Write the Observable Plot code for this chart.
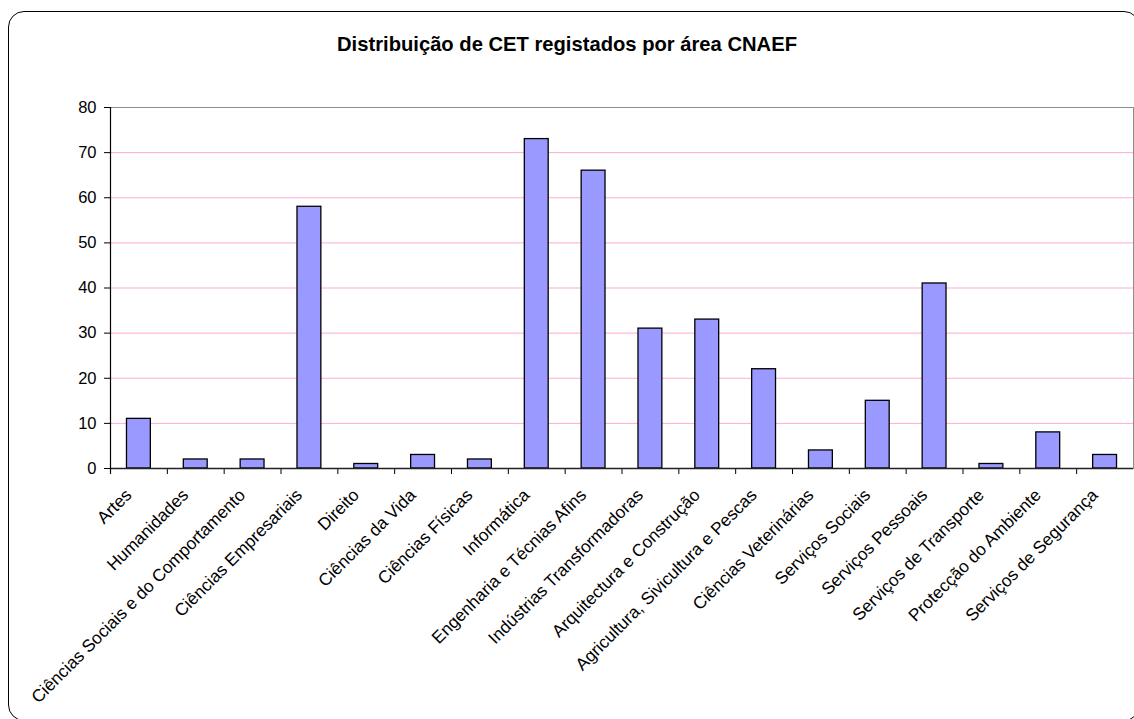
<!DOCTYPE html>
<html>
<head>
<meta charset="utf-8">
<script src="https://cdn.jsdelivr.net/npm/d3@7"></script>
<script src="https://cdn.jsdelivr.net/npm/@observablehq/plot@0.6"></script>
<style>
  html, body { margin: 0; padding: 0; background: #fff; }
  #wrap { position: relative; width: 1134px; height: 719px; overflow: hidden; background: #fff; }
  #border { position: absolute; left: 8px; top: 11px; width: 1132px; height: 710px; box-sizing: border-box;
            border: 1.5px solid #000; border-radius: 16px; pointer-events: none; }
  #title { position: absolute; left: 0; top: 34px; width: 1134px; text-align: center;
           font-family: "Liberation Sans", Arial, sans-serif; font-weight: bold; font-size: 20.2px; line-height: 20px; color: #000; }
  #chart { position: absolute; left: 0; top: 0; }
</style>
</head>
<body>
<div id="wrap">
  <div id="chart"></div>
  <div id="border"></div>
  <div id="title">Distribuição de CET registados por área CNAEF</div>
</div>
<script>
const categories = [
  "Artes", "Humanidades", "Ciências Sociais e do Comportamento", "Ciências Empresariais",
  "Direito", "Ciências da Vida", "Ciências Físicas", "Informática",
  "Engenharia e Técnias Afins", "Indústrias Transformadoras", "Arquitectura e Construção",
  "Agricultura, Sivicultura e Pescas", "Ciências Veterinárias", "Serviços Sociais",
  "Serviços Pessoais", "Serviços de Transporte", "Protecção do Ambiente", "Serviços de Segurança"
];
const values = [11, 2, 2, 58, 1, 3, 2, 73, 66, 31, 33, 22, 4, 15, 41, 1, 8, 3];
const yTicks = [0, 10, 20, 30, 40, 50, 60, 70, 80];
const gridValues = [10, 20, 30, 40, 50, 60, 70];

const data = categories.map((c, i) => ({cat: c, value: values[i]}));

const W = 1134, H = 719, mL = 110, mR = 1, mT = 107, mB = 251;
const step = (W - mL - mR) / categories.length;
const barInset = step * 0.29;

const chart = Plot.plot({
  width: W, height: H,
  marginLeft: mL, marginRight: mR, marginTop: mT, marginBottom: mB,
  style: {fontFamily: "'Liberation Sans', Arial, sans-serif", fontSize: "16px", color: "#000", background: "transparent", overflow: "visible"},
  x: {type: "band", domain: categories, padding: 0, round: false, axis: null, label: null},
  y: {domain: [0, 80], axis: null, label: null},
  marks: [
    Plot.ruleY(gridValues, {stroke: "#ffaad4", strokeWidth: 1}),
    Plot.frame({stroke: "#8c8c8c", strokeWidth: 1}),
    Plot.barY(data, {x: "cat", y: "value", fill: "#9999ff", stroke: "#000", strokeWidth: 1.3,
                     insetLeft: barInset, insetRight: barInset}),
    Plot.axisY({ticks: yTicks, tickSize: 6, tickPadding: 8, stroke: "#000", fontSize: 16.5, label: null}),
    Plot.axisX({tickSize: 6, tickFormat: () => "", dx: -step / 2, stroke: "#000", label: null}),
    Plot.ruleY([0], {stroke: "#222", strokeWidth: 1.5}),
    Plot.ruleX([categories[0]], {dx: -step / 2, stroke: "#000", strokeWidth: 1.2, insetBottom: -6}),
    Plot.text(categories, {x: d => d, frameAnchor: "bottom", rotate: -45, textAnchor: "end",
                           lineAnchor: "top", dx: -15, dy: 19, fontSize: 17.3, fill: "#000"})
  ]
});
document.getElementById("chart").appendChild(chart);
</script>
</body>
</html>
